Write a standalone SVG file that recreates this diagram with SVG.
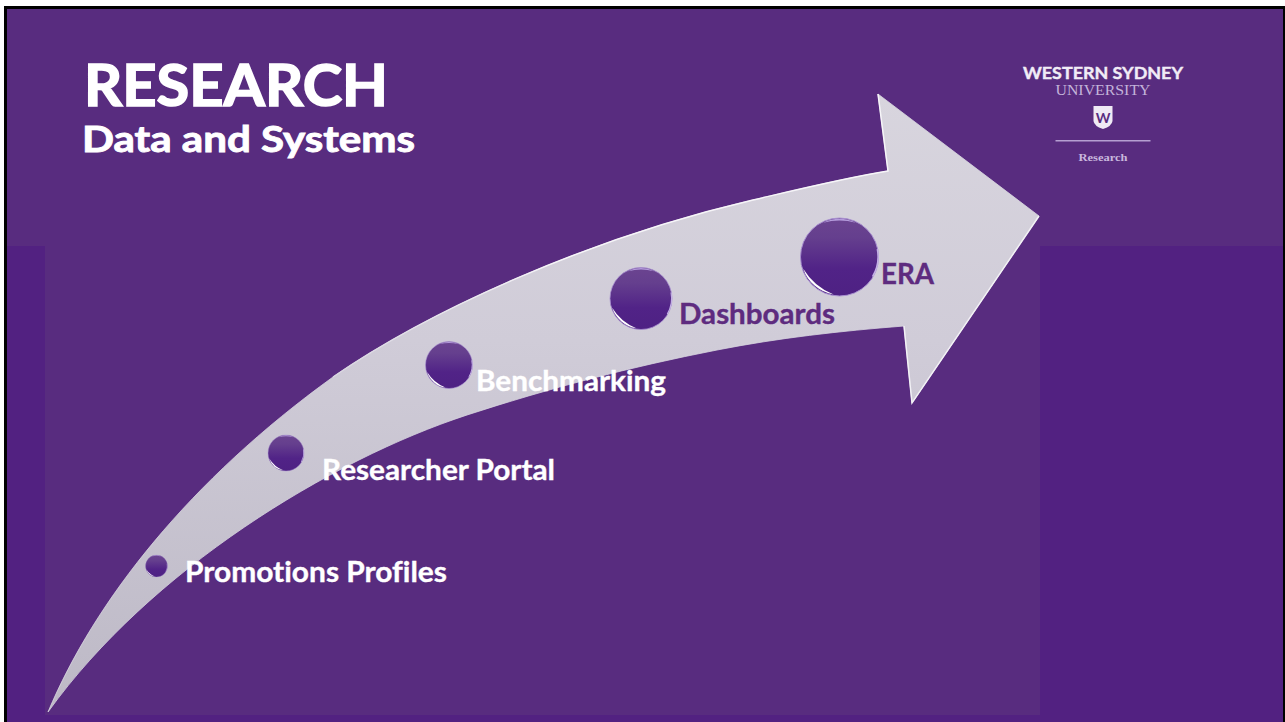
<svg xmlns="http://www.w3.org/2000/svg" width="1285" height="722" viewBox="0 0 1285 722">
<style>
text{font-variant-ligatures:none}
.lb{font-family:Lato,"Noto Sans",sans-serif;font-weight:700;font-size:29px;stroke-width:.35px}
.w{fill:#fff;stroke:#fff}.p{fill:#5e2b7f;stroke:#5e2b7f}
.serif{font-family:"Liberation Serif",serif}
.sans{font-family:Lato,"Liberation Sans",sans-serif;font-weight:700}
</style>
<defs>
<linearGradient id="arrow" gradientUnits="userSpaceOnUse" x1="0" y1="710" x2="0" y2="95">
<stop offset="0" stop-color="#bdb9c6"/><stop offset="0.6" stop-color="#d0ccd8"/><stop offset="1" stop-color="#d8d5de"/>
</linearGradient>
<linearGradient id="edge" gradientUnits="userSpaceOnUse" x1="333" y1="0" x2="560" y2="0">
<stop offset="0" stop-color="#d8d5e0"/><stop offset="1" stop-color="#f6f5f8"/>
</linearGradient>
<linearGradient id="ball" x1="0" y1="0" x2="0" y2="1">
<stop offset="0" stop-color="#6b4490"/><stop offset="0.25" stop-color="#653f8e"/><stop offset="0.65" stop-color="#512387"/><stop offset="1" stop-color="#4e2183"/>
</linearGradient>
<filter id="soft" x="-20%" y="-30%" width="140%" height="160%"><feGaussianBlur stdDeviation="0.02"/></filter>
<g id="orb">
<circle r="1" fill="url(#ball)" stroke="#a88fd0" stroke-width="0.025"/>
<path d="M-0.42,-0.88 A0.97,0.97 0 0 1 0.42,-0.88 A1.6,1.6 0 0 0 -0.42,-0.88Z" fill="#b49bdc" filter="url(#soft)"/>
<path d="M-0.93,0.3 A0.98,0.98 0 0 0 -0.15,0.96 A1.6,1.6 0 0 1 -0.93,0.3Z" fill="#fff" filter="url(#soft)"/>
<path d="M0.97,-0.2 A1,1 0 0 1 0.85,0.5" fill="none" stroke="#c3b0e4" stroke-width="0.04"/>
</g>
</defs>
<rect width="1285" height="722" fill="#fff"/>
<rect x="4" y="6" width="1281" height="716" fill="#000"/>
<g id="background">
<rect x="7" y="9" width="1276" height="713" fill="#582c7f"/>
<rect x="7" y="246" width="38" height="476" fill="#522181"/>
<rect x="1040" y="246" width="243" height="476" fill="#522181"/>
<rect x="45" y="715" width="995" height="7" fill="#522181"/>
</g>
<g id="connectors">
<path id="arrow-shape" d="M48,712 C95,600 190,480 333,377 C430,310 590,238 753,200 C798,189.500 845,178 888,171 L878,94 L1039,216 L912,403 L904,326 C840,331 778,338 717,350 C630,367 550,388 467,415 C330,460 150,570 48,712Z" fill="url(#arrow)" stroke="#d8d5e0" stroke-width="0.8"/>
<path d="M333,377 C430,310 590,238 753,200 C798,189.500 845,178 888,171 L878,94" fill="none" stroke="url(#edge)" stroke-width="1.500"/>
<path d="M1039,216 L912,403 L904,326" fill="none" stroke="#f2f1f5" stroke-width="1.500"/>
</g>
<g id="title">
<text x="84" y="106" class="sans w" font-size="58" stroke-width="1.600" textLength="304" lengthAdjust="spacingAndGlyphs">RESEARCH</text>
<text x="82" y="152" class="sans w" font-size="37" stroke-width="0.900" textLength="333" lengthAdjust="spacingAndGlyphs">Data and Systems</text>
</g>
<g id="logo">
<text x="1103" y="79" text-anchor="middle" class="sans" font-size="17" fill="#f1ecf6" stroke="#f1ecf6" stroke-width=".4" textLength="160" lengthAdjust="spacingAndGlyphs">WESTERN SYDNEY</text>
<text x="1103" y="95" text-anchor="middle" class="serif" font-size="14" fill="#c4b4da" textLength="95" lengthAdjust="spacingAndGlyphs">UNIVERSITY</text>
<path d="M1093.500,106 H1112.500 V121 Q1112 126 1103 129 Q1094 126 1093.500,121Z" fill="#efeaf5"/>
<text x="1103" y="123" text-anchor="middle" class="sans" font-size="14" fill="#592d80">W</text>
<rect x="1055.500" y="140" width="95" height="1.500" fill="#b59fd2"/>
<text x="1103" y="161" text-anchor="middle" class="serif" font-size="11" font-weight="700" fill="#c9b8de" textLength="49" lengthAdjust="spacingAndGlyphs">Research</text>
</g>
<g id="node-promotions">
<use href="#orb" transform="translate(156.500 566) scale(11)"/>
<text x="185" y="582" class="lb w" textLength="262" lengthAdjust="spacingAndGlyphs">Promotions Profiles</text>
</g>
<g id="node-portal">
<use href="#orb" transform="translate(286 453) scale(18)"/>
<text x="322" y="480" class="lb w" textLength="233" lengthAdjust="spacingAndGlyphs">Researcher Portal</text>
</g>
<g id="node-benchmarking">
<use href="#orb" transform="translate(449 365) scale(23.500)"/>
<text x="476" y="391" class="lb w" textLength="190" lengthAdjust="spacingAndGlyphs">Benchmarking</text>
</g>
<g id="node-dashboards">
<use href="#orb" transform="translate(641 298.500) scale(31)"/>
<text x="679" y="324" class="lb p" textLength="156" lengthAdjust="spacingAndGlyphs">Dashboards</text>
</g>
<g id="node-era">
<use href="#orb" transform="translate(839.500 257) scale(39)"/>
<text x="881" y="284" class="lb p" textLength="53" lengthAdjust="spacingAndGlyphs">ERA</text>
</g>
</svg>
